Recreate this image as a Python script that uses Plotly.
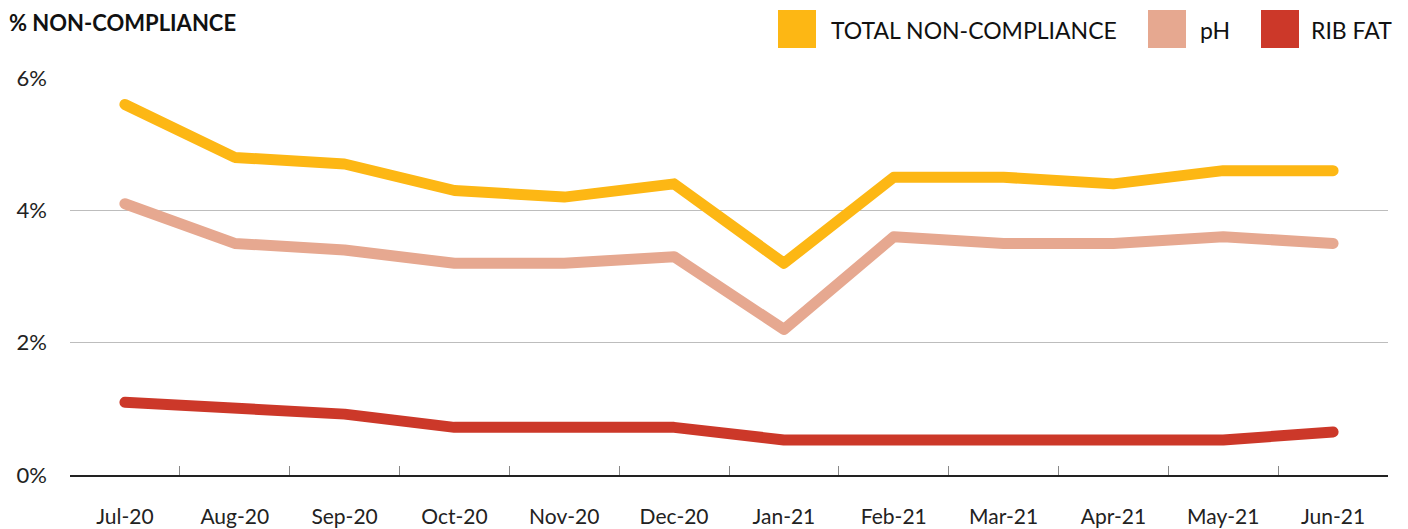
import plotly.graph_objects as go

months = ["Jul-20", "Aug-20", "Sep-20", "Oct-20", "Nov-20", "Dec-20",
          "Jan-21", "Feb-21", "Mar-21", "Apr-21", "May-21", "Jun-21"]
total_nc = [5.6, 4.8, 4.7, 4.3, 4.2, 4.4, 3.2, 4.5, 4.5, 4.4, 4.6, 4.6]
ph = [4.1, 3.5, 3.4, 3.2, 3.2, 3.3, 2.2, 3.6, 3.5, 3.5, 3.6, 3.5]
rib_fat = [1.1, 1.03, 0.92, 0.72, 0.72, 0.72, 0.53, 0.53, 0.53, 0.53, 0.53, 0.65]

series = [
    ("TOTAL NON-COMPLIANCE", total_nc, "#FDB714"),
    ("pH", ph, "#E6A890"),
    ("RIB FAT", rib_fat, "#CC3829"),
]

FONT = "Lato"
W, H = 1408, 529
PL, PR, PT, PB = 70, 1388, 78, 475  # plot area in pixels


def px_x(x):
    return (x - PL) / (PR - PL)


def px_y(y):
    return (PB - y) / (PB - PT)


fig = go.Figure()
for name, vals, col in series:
    fig.add_trace(go.Scatter(x=months, y=vals, mode="lines", name=name,
                             line=dict(color=col, width=11),
                             cliponaxis=False, showlegend=False,
                             hoverinfo="skip"))

# manual legend (large square swatches)
legend_items = [
    ("TOTAL NON-COMPLIANCE", "#FDB714", 778, 816, 829),
    ("pH", "#E6A890", 1148, 1186, 1198),
    ("RIB FAT", "#CC3829", 1261, 1299, 1309),
]
for name, col, x0, x1, tx in legend_items:
    fig.add_shape(type="rect", xref="paper", yref="paper",
                  x0=px_x(x0), x1=px_x(x1), y0=px_y(48), y1=px_y(10),
                  fillcolor=col, line=dict(width=0))
    fig.add_annotation(xref="paper", yref="paper",
                       x=px_x(tx), y=px_y(30),
                       text=name, showarrow=False, xanchor="left", yanchor="middle",
                       font=dict(family=FONT, size=23, color="#111"))

fig.add_annotation(xref="paper", yref="paper",
                   x=px_x(7), y=px_y(22),
                   text="<b>% NON-COMPLIANCE</b>", showarrow=False,
                   xanchor="left", yanchor="middle",
                   font=dict(family=FONT, size=22, color="#111"))

fig.update_layout(
    width=W, height=H,
    margin=dict(l=PL, r=W - PR, t=PT, b=H - PB),
    plot_bgcolor="white", paper_bgcolor="white",
    font=dict(family=FONT, size=21, color="#222"),
    xaxis=dict(type="category", showgrid=False, showline=True,
               linecolor="#222", linewidth=1.5,
               ticks="inside", tickson="boundaries", ticklen=9,
               tickcolor="#888", tickwidth=1,
               ticklabelstandoff=22, automargin=False,
               tickfont=dict(family=FONT, size=21, color="#222"),
               range=[-0.5, 11.5]),
    yaxis=dict(range=[0, 6], tickvals=[0, 2, 4, 6],
               ticktext=["0%", "2%", "4%", "6%"],
               showgrid=True, gridcolor="#BDBDBD", gridwidth=1,
               zeroline=False, showline=False, ticks="",
               ticklabelstandoff=22, automargin=False,
               tickfont=dict(family=FONT, size=22, color="#222")),
)

fig.write_html(
    "out.html", config={"displayModeBar": False},
    post_script=(
        "document.body.style.margin='0';document.body.style.overflow='hidden';"
        "document.querySelectorAll('.js-line').forEach(function(p){"
        "p.style.strokeLinecap='round';p.style.strokeLinejoin='round';});"
    ),
)
